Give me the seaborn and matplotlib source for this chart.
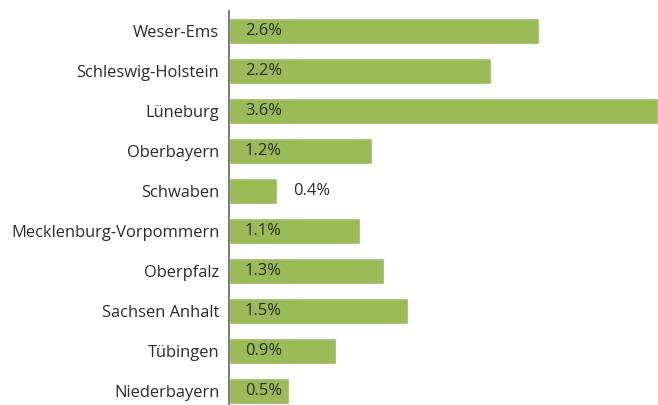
import matplotlib
matplotlib.use('Agg')
import matplotlib.pyplot as plt
import seaborn as sns
import pandas as pd

regions = ['Weser-Ems', 'Schleswig-Holstein', 'Lüneburg', 'Oberbayern', 'Schwaben',
	'Mecklenburg-Vorpommern', 'Oberpfalz', 'Sachsen Anhalt', 'Tübingen', 'Niederbayern']
values = [2.6, 2.2, 3.6, 1.2, 0.4, 1.1, 1.3, 1.5, 0.9, 0.5]

sns.set_style('white')
plt.rcParams['font.family'] = ['Open Sans', 'DejaVu Sans']

textColor = '#2b2b2b'
barColor = '#9bbb59'
fontSize = 11.9

df = pd.DataFrame({'region': regions, 'value': values})

fig = plt.figure(figsize=(6.58, 4.05), dpi=100)
ax = fig.add_axes([229/658, 0, 429/658, 394/405])

sns.barplot(data=df, x='value', y='region', orient='h', color=barColor,
	width=0.65, saturation=1, ax=ax)

ax.set_xlim(0, 3.6)
ax.set_ylim(9.35, -0.5)
ax.set_xlabel('')
ax.set_ylabel('')
ax.set_xticks([])
ax.tick_params(axis='y', length=0, pad=7, labelsize=fontSize, labelcolor=textColor)

for side in ['top', 'right', 'bottom']:
	ax.spines[side].set_visible(False)
ax.spines['left'].set_color('#7f7f7f')
ax.spines['left'].set_linewidth(1.5)

# value labels: inside near the base, outside when the bar is too short
pxPerUnit = 429 / 3.6
for idx, val in enumerate(values):
	label = f'{val:.1f}%'
	if val * pxPerUnit < 55:
		ax.annotate(label, (val, idx), xytext=(16, 0), textcoords='offset pixels',
			va='center', ha='left', fontsize=fontSize, color=textColor)
	else:
		ax.annotate(label, (0, idx), xytext=(16, 0), textcoords='offset pixels',
			va='center', ha='left', fontsize=fontSize, color=textColor)

fig.savefig('out.png', dpi=100)
